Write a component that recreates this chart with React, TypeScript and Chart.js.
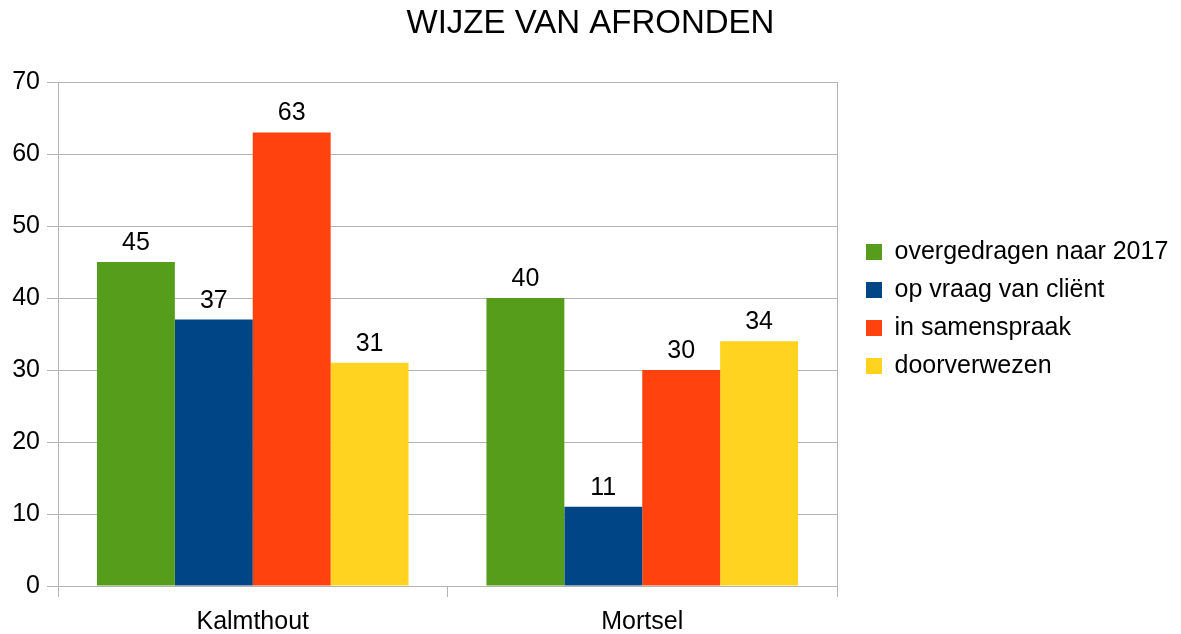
import React, { useEffect, useRef } from "react";
import { Chart, registerables } from "chart.js";

Chart.register(...registerables);

const categories = ["Kalmthout", "Mortsel"];
const seriesNames = ["overgedragen naar 2017", "op vraag van cliënt", "in samenspraak", "doorverwezen"];
const overgedragen = [45, 40];
const opVraag = [37, 11];
const inSamenspraak = [63, 30];
const doorverwezen = [31, 34];
const colors = ["#579D1C", "#004586", "#FF420E", "#FFD320"];
const yTicks = [0, 10, 20, 30, 40, 50, 60, 70];

const FONT = "'Liberation Sans', Arial, sans-serif";
const LEGEND_PAD = 13;

const valueLabels = {
  id: "valueLabels",
  afterDatasetsDraw(chart: any) {
    const ctx = chart.ctx;
    ctx.save();
    ctx.font = `25px ${FONT}`;
    ctx.fillStyle = "#000";
    ctx.textAlign = "center";
    ctx.textBaseline = "alphabetic";
    chart.data.datasets.forEach((ds: any, i: number) => {
      const meta = chart.getDatasetMeta(i);
      meta.data.forEach((bar: any, j: number) => {
        ctx.fillText(String(ds.data[j]), bar.x, bar.y - 12);
      });
    });
    ctx.restore();
  },
};

const legendLayout = {
  id: "legendLayout",
  beforeLayout(chart: any) {
    const lg = chart.legend;
    if (!lg || lg.__wrapped) return;
    const origFit = lg.fit.bind(lg);
    lg.fit = function () {
      origFit();
      this.width = 344;
    };
    lg.__wrapped = true;
  },
  afterLayout(chart: any) {
    const lg = chart.legend;
    if (!lg) return;
    lg.left = 866 - LEGEND_PAD;
    lg.right = chart.width;
    lg.width = lg.right - lg.left;
    lg.top -= 8;
    lg.bottom -= 8;
  },
};

export default function App() {
  const ref = useRef<HTMLCanvasElement>(null);
  useEffect(() => {
    document.body.style.margin = "0";
    const series = [overgedragen, opVraag, inSamenspraak, doorverwezen];
    const chart = new Chart(ref.current!, {
      type: "bar",
      data: {
        labels: categories,
        datasets: series.map((d, i) => ({
          label: seriesNames[i],
          data: d,
          backgroundColor: colors[i],
          borderWidth: 0,
          categoryPercentage: 0.8,
          barPercentage: 1,
        })),
      },
      options: {
        responsive: false,
        animation: false,
        layout: { padding: 0 },
        plugins: {
          tooltip: { enabled: false },
          title: {
            display: true,
            text: "WIJZE VAN AFRONDEN",
            color: "#000",
            font: { family: FONT, size: 33, weight: "normal" },
            padding: { top: 4, bottom: 38.4 },
          },
          legend: {
            position: "right",
            labels: {
              boxWidth: 16,
              boxHeight: 16,
              padding: LEGEND_PAD,
              color: "#000",
              font: { family: FONT, size: 25 },
            },
          },
        },
        scales: {
          x: {
            afterFit: (s: any) => { s.height = 48; },
            grid: {
              offset: true,
              color: (c: any) => (c.index === 1 ? "rgba(0,0,0,0)" : "#b3b3b3"),
              tickColor: "#b3b3b3",
              tickLength: 11,
              lineWidth: 1,
            },
            border: { color: "#b3b3b3" },
            ticks: { color: "#000", font: { family: FONT, size: 25 }, padding: 10 },
          },
          y: {
            min: 0,
            max: 70,
            afterFit: (s: any) => { s.width = 58; },
            afterBuildTicks: (s: any) => { s.ticks = yTicks.map((v) => ({ value: v })); },
            grid: { color: "#b3b3b3", tickColor: "#b3b3b3", tickLength: 11 },
            border: { color: "#b3b3b3" },
            ticks: { color: "#000", font: { family: FONT, size: 25 }, padding: 7 },
          },
        },
      },
      plugins: [valueLabels, legendLayout],
    });
    return () => chart.destroy();
  }, []);
  return (
    <div style={{ width: 1181, height: 634 }}>
      <canvas ref={ref} width={1181} height={634} />
    </div>
  );
}
